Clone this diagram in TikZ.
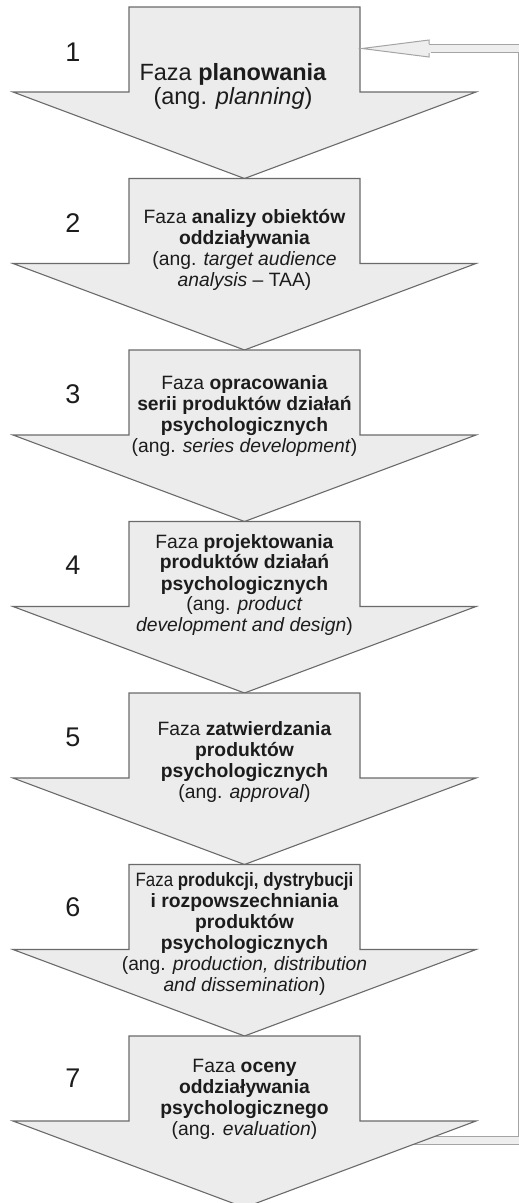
\documentclass[tikz,border=0pt]{standalone}
\usepackage{graphicx}
\usepackage{fontspec}
\setmainfont{Liberation Sans}
\definecolor{phasefill}{HTML}{ECECEC}
\definecolor{phaseline}{HTML}{6A6A6A}
\definecolor{loopline}{HTML}{A4A4A4}
\definecolor{loopfill}{HTML}{EEEEEE}
\definecolor{ink}{HTML}{1C1C1C}
\tikzset{
  phase/.style={draw=phaseline, fill=phasefill, line width=1.1pt, line join=miter},
  phasetext/.style={align=center, text=ink, font=\fontsize{19.3}{21}\selectfont, inner sep=0pt},
  bigphasetext/.style={phasetext, font=\fontsize{23.5}{24}\selectfont},
  num/.style={text=ink, font=\fontsize{27}{30}\selectfont, inner sep=0pt},
  loopshaft/.style={draw=loopline, line width=1pt, double=loopfill, double distance=7pt},
  loophead/.style={draw=loopline, fill=loopfill, line width=1pt, line join=miter},
}
\begin{document}
\begin{tikzpicture}[x=1pt, y=-1pt]
\useasboundingbox (0,0) rectangle (519,1203);
\clip (0,0) rectangle (519,1203);

% return path from the evaluation phase back to planning (drawn first, so the arrows cover its start)
\coordinate (ret) at (400,1140);
\coordinate (in1) at (429,48.5);
\draw[loopshaft] (ret) -- (522.5,1140) -- (522.5,48.5) -- (in1);

% block arrows of the seven phases
\foreach \t in {7,178.5,350,521.5,693,864.5,1036}{
  \draw[phase] (129,\t) -- (360,\t) -- (360,\t+85) -- (476,\t+85)
    -- (244.5,\t+171.5) -- (13,\t+85) -- (129,\t+85) -- cycle;
}

% hollow head of the return path, its tip on the right side of the first arrow
\coordinate (a1) at (362,48.5);
\fill[loopfill] (424,44.5) rectangle (431,52.5);
\draw[loophead] (429,44) -- (429,40) -- (a1) -- (429,57) -- (429,53);

% phase numbers
\node[num] (n1) at (73,52) {1};
\node[num] (n2) at (73,223) {2};
\node[num] (n3) at (73,394) {3};
\node[num] (n4) at (73,565) {4};
\node[num] (n5) at (73,737) {5};
\node[num] (n6) at (73,907.5) {6};
\node[num] (n7) at (73,1078) {7};

% phase descriptions
\node[bigphasetext] (p1) at (233,86) {Faza \textbf{planowania}\\(ang. \textit{planning})};
\node[phasetext] (p2) at (244.5,250) {Faza \textbf{analizy obiektów}\\\textbf{oddziaływania}\\(ang. \textit{target audience}\\\textit{analysis} – TAA)};
\node[phasetext] (p3) at (244.5,416) {Faza \textbf{opracowania}\\\textbf{serii produktów działań}\\\textbf{psychologicznych}\\(ang. \textit{series development})};
\node[phasetext] (p4) at (244.5,585) {Faza \textbf{projektowania}\\\textbf{produktów działań}\\\textbf{psychologicznych}\\(ang. \textit{product}\\\textit{development and design})};
\node[phasetext] (p5) at (244.5,762) {Faza \textbf{zatwierdzania}\\\textbf{produktów}\\\textbf{psychologicznych}\\(ang. \textit{approval})};
\node[phasetext] (p6) at (244.5,933.5) {\scalebox{0.875}[1]{Faza \textbf{produkcji, dystrybucji}}\\\textbf{i rozpowszechniania}\\\textbf{produktów}\\\textbf{psychologicznych}\\(ang. \textit{production, distribution}\\\textit{and dissemination})};
\node[phasetext] (p7) at (244.5,1099) {Faza \textbf{oceny}\\\textbf{oddziaływania}\\\textbf{psychologicznego}\\(ang. \textit{evaluation})};
\end{tikzpicture}
\end{document}
